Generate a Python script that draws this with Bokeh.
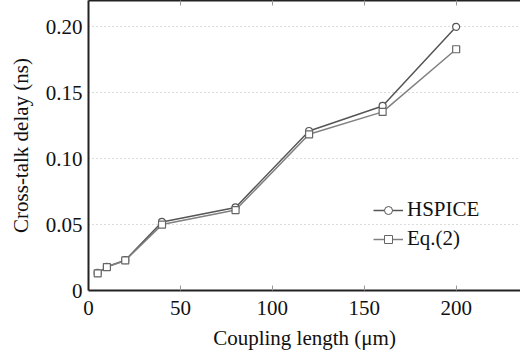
from bokeh.plotting import figure
from bokeh.models import LinearAxis, FixedTicker, Range1d, Legend, LegendItem
from bokeh.embed import file_html
from bokeh.resources import INLINE

# Data
length_um = [5, 10, 20, 40, 80, 120, 160, 200]
hspice = [0.0133, 0.0180, 0.0230, 0.0520, 0.0630, 0.1210, 0.1400, 0.2000]
eq2 = [0.0130, 0.0178, 0.0228, 0.0500, 0.0610, 0.1185, 0.1355, 0.1830]
x_ticks = [0, 50, 100, 150, 200]
y_ticks = [0, 0.05, 0.10, 0.15, 0.20]
y_tick_labels = {0: "0", 0.05: "0.05", 0.1: "0.10", 0.15: "0.15", 0.2: "0.20"}

FONT = "Liberation Serif"
TXT = "#111111"

p = figure(width=520, height=352, output_backend="svg", toolbar_location=None,
           x_range=Range1d(0, 235), y_range=Range1d(0, 0.22),
           min_border_left=88, min_border_right=0, min_border_top=0, min_border_bottom=60)

p.outline_line_color = None
p.background_fill_color = "white"
p.border_fill_color = "white"

# grids
p.xgrid.visible = False
p.ygrid.ticker = FixedTicker(ticks=y_ticks[1:])
p.ygrid.grid_line_color = "#b8b8b8"
p.ygrid.grid_line_dash = "1 3"
p.ygrid.grid_line_width = 1

# axes
xa = p.xaxis[0]
xa.ticker = FixedTicker(ticks=x_ticks)
xa.axis_label = "Coupling length (\u03bcm)"
xa.axis_label_text_font = FONT
xa.axis_label_text_font_style = "normal"
xa.axis_label_text_font_size = "21px"
xa.axis_label_text_color = TXT
xa.axis_label_standoff = 8
xa.major_label_text_font = FONT
xa.major_label_text_font_size = "21px"
xa.major_label_text_color = TXT
xa.major_label_standoff = 10
xa.major_tick_in = 5
xa.major_tick_out = 0
xa.minor_tick_line_color = None
xa.axis_line_width = 2
xa.axis_line_color = "#222222"
xa.major_tick_line_color = "#999999"

ya = p.yaxis[0]
ya.ticker = FixedTicker(ticks=y_ticks)
ya.major_label_overrides = y_tick_labels
ya.axis_label = "Cross-talk delay (ns)"
ya.axis_label_text_font = FONT
ya.axis_label_text_font_style = "normal"
ya.axis_label_text_font_size = "21px"
ya.axis_label_text_color = TXT
ya.axis_label_standoff = 10
ya.major_label_text_font = FONT
ya.major_label_text_font_size = "21px"
ya.major_label_text_color = TXT
ya.major_label_standoff = 6
ya.major_tick_in = 0
ya.major_tick_out = 0
ya.minor_tick_line_color = None
ya.axis_line_width = 2
ya.axis_line_color = "#222222"

top = LinearAxis(ticker=FixedTicker(ticks=x_ticks[1:]))
top.major_label_text_font_size = "0px"
top.major_label_text_color = None
top.major_label_standoff = 0
top.major_tick_in = 5
top.major_tick_out = 0
top.minor_tick_line_color = None
top.axis_line_width = 2
top.axis_line_color = "#222222"
top.major_tick_line_color = "#999999"
p.add_layout(top, "above")

c1 = "#555555"
c2 = "#808080"

l1 = p.line(length_um, hspice, line_color=c1, line_width=1.5)
m1 = p.scatter(length_um, hspice, marker="circle", size=7, line_color=c1,
               fill_color="white", line_width=1.2)
l2 = p.line(length_um, eq2, line_color=c2, line_width=1.5)
m2 = p.scatter(length_um, eq2, marker="square", size=7, line_color="#666666",
               fill_color="white", line_width=1.2)

lg1 = p.scatter([-100], [-1], marker="circle", size=4, line_color=c1, fill_color="white", line_width=1)
lg2 = p.scatter([-100], [-1], marker="square", size=4, line_color="#666666", fill_color="white", line_width=1)

legend = Legend(items=[LegendItem(label="HSPICE", renderers=[l1, lg1]),
                       LegendItem(label="Eq.(2)", renderers=[l2, lg2])],
                location=(285, 39))
legend.background_fill_alpha = 0
legend.border_line_color = None
legend.label_text_font = FONT
legend.label_text_font_size = "21px"
legend.label_text_color = TXT
legend.glyph_width = 30
legend.label_standoff = 4
legend.spacing = 4
legend.padding = 4
legend.margin = 0
p.add_layout(legend, "center")

open("out.html", "w").write(file_html(p, INLINE))
